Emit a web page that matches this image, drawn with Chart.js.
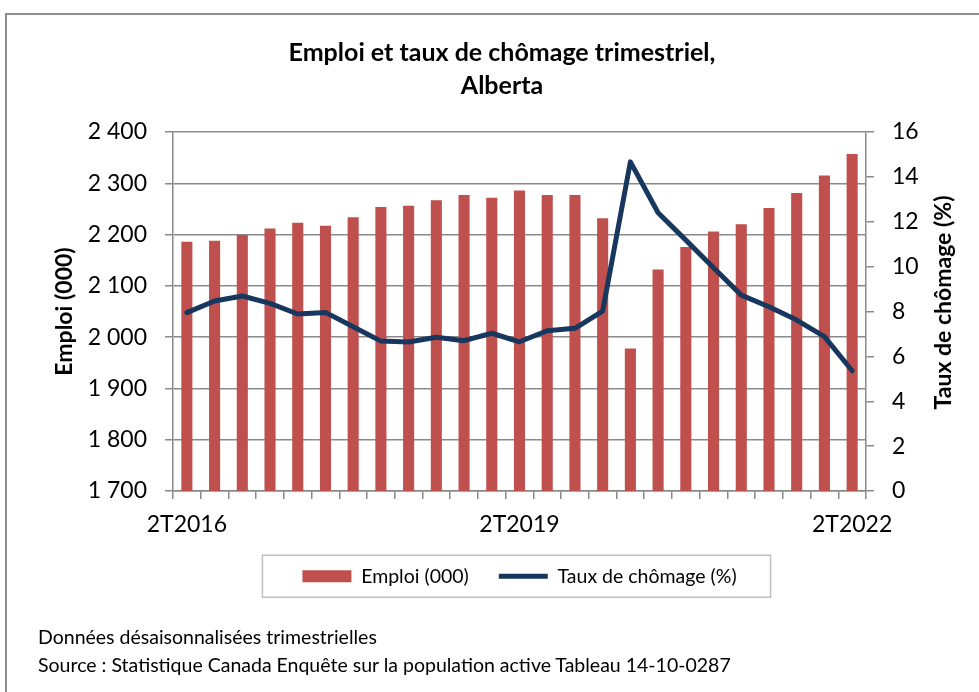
<!DOCTYPE html>
<html>
<head>
<meta charset="utf-8">
<script src="https://cdn.jsdelivr.net/npm/chart.js@4.4.1/dist/chart.umd.min.js"></script>
<style>
  html, body { margin: 0; padding: 0; background: #fff; }
  body { width: 979px; height: 692px; position: relative; overflow: hidden; font-family: Lato, "Noto Sans", sans-serif; }
  #frame { position: absolute; left: 5px; top: 13px; right: -4px; bottom: -4px; border-top: 2px solid #8c8c8c; border-left: 2px solid #8c8c8c; }
  #wrap { position: absolute; left: 0; top: 0; width: 979px; height: 692px; }
  #title { position: absolute; left: 252px; width: 500px; top: 35px; text-align: center; font-weight: bold; font-size: 25px; line-height: 33px; color: #000; }
  .foot { position: absolute; left: 38px; font-size: 19.5px; color: #000; white-space: nowrap; }
</style>
</head>
<body>
<div id="frame"></div>
<div id="wrap"><canvas id="c" width="979" height="692"></canvas></div>
<div id="title">Emploi et taux de chômage trimestriel,<br>Alberta</div>
<div class="foot" style="top:625px">Données désaisonnalisées trimestrielles</div>
<div class="foot" style="top:653px">Source : Statistique Canada Enquête sur la population active Tableau 14-10-0287</div>
<script>
const categories = ["2T2016","3T2016","4T2016","1T2017","2T2017","3T2017","4T2017","1T2018","2T2018","3T2018","4T2018","1T2019","2T2019","3T2019","4T2019","1T2020","2T2020","3T2020","4T2020","1T2021","2T2021","3T2021","4T2021","1T2022","2T2022"];
const emploi = [2186, 2188, 2199, 2212, 2223, 2217, 2234, 2254, 2256, 2267, 2277, 2272, 2286, 2277, 2277, 2232, 1978, 2132, 2176, 2206, 2220, 2252, 2281, 2315, 2357];
const chomage = [7.95, 8.47, 8.69, 8.36, 7.89, 7.96, 7.32, 6.68, 6.64, 6.85, 6.70, 7.03, 6.65, 7.14, 7.25, 8.02, 14.67, 12.40, 11.18, 9.95, 8.73, 8.21, 7.62, 6.88, 5.36];
const shownLabels = ["2T2016", "2T2019", "2T2022"];
const leftTitle = "Emploi (000)";
const rightTitle = "Taux de chômage (%)";
const seriesNames = ["Emploi (000)", "Taux de chômage (%)"];

const FONT = "Lato, 'Noto Sans', sans-serif";
const GRID = "#8a8a8a";

function fmtThousands(v) {
  const s = String(Math.round(v));
  return s.length > 3 ? s.slice(0, s.length - 3) + " " + s.slice(-3) : s;
}

const extras = {
  id: "extras",
  afterDraw(chart) {
    const ctx = chart.ctx;
    const ca = chart.chartArea;
    // right axis title, reading bottom to top
    ctx.save();
    ctx.font = "bold 23px " + FONT;
    ctx.fillStyle = "#000";
    ctx.textAlign = "center";
    ctx.textBaseline = "middle";
    ctx.translate(944, (ca.top + ca.bottom) / 2 - 9);
    ctx.rotate(-Math.PI / 2);
    ctx.fillText(rightTitle, 0, 0);
    ctx.restore();
    // legend frame
    const hb = chart.legend.legendHitBoxes;
    if (hb && hb.length) {
      const l = Math.min(...hb.map(h => h.left)) - 40;
      const r = Math.max(...hb.map(h => h.left + h.width)) + 34;
      const cy = hb[0].top + hb[0].height / 2;
      ctx.save();
      ctx.strokeStyle = "#bfbfbf";
      ctx.lineWidth = 1.5;
      ctx.strokeRect(l, cy - 21, r - l, 42);
      ctx.restore();
    }
  }
};

new Chart(document.getElementById("c"), {
  data: {
    labels: categories,
    datasets: [
      {
        type: "line",
        label: seriesNames[1],
        data: chomage,
        yAxisID: "y1",
        borderColor: "#17375E",
        backgroundColor: "#17375E",
        borderWidth: 5,
        tension: 0,
        pointRadius: 0,
        pointHoverRadius: 0,
        pointStyle: "line",
        borderJoinStyle: "round",
        borderCapStyle: "round"
      },
      {
        type: "bar",
        label: seriesNames[0],
        data: emploi,
        yAxisID: "y",
        backgroundColor: "#C0504D",
        borderWidth: 0,
        pointStyle: "rect",
        barPercentage: 0.4,
        categoryPercentage: 1.0
      }
    ]
  },
  options: {
    responsive: false,
    animation: false,
    events: [],
    layout: { padding: { left: 40, right: 7, top: 132, bottom: 96 } },
    plugins: {
      title: { display: false },
      tooltip: { enabled: false },
      legend: {
        position: "bottom",
        fullSize: false,
        reverse: true,
        labels: {
          usePointStyle: true,
          pointStyleWidth: 49,
          boxHeight: 12,
          padding: 30,
          color: "#000",
          font: { family: FONT, size: 19.5 }
        }
      }
    },
    scales: {
      x: {
        type: "category",
        offset: true,
        grid: { offset: true, drawOnChartArea: false, drawTicks: true, tickLength: 8, color: GRID, lineWidth: 1.5 },
        border: { display: true, color: GRID, width: 1.5 },
        ticks: {
          autoSkip: false, maxRotation: 0, minRotation: 0, padding: 12,
          color: "#000", font: { family: FONT, size: 23 },
          callback: function (value, index) {
            const lab = categories[index];
            return shownLabels.includes(lab) ? lab : "";
          }
        },
        afterFit: (s) => { s.height = 45.5; }
      },
      y: {
        type: "linear",
        position: "left",
        min: 1700, max: 2400,
        grid: { color: GRID, lineWidth: 1.5, drawTicks: true, tickLength: 8 },
        border: { display: true, color: GRID, width: 1.5 },
        ticks: {
          stepSize: 100, padding: 18, color: "#000", font: { family: FONT, size: 23 },
          callback: (v) => fmtThousands(v)
        },
        title: { display: true, text: leftTitle, color: "#000", font: { family: FONT, size: 23, weight: "bold" }, padding: { top: 11, bottom: 0 } },
        afterFit: (s) => { s.width = 133; }
      },
      y1: {
        type: "linear",
        position: "right",
        min: 0, max: 16,
        grid: { drawOnChartArea: false, color: GRID, lineWidth: 1.5, drawTicks: true, tickLength: 8 },
        border: { display: true, color: GRID, width: 1.5 },
        ticks: { stepSize: 2, padding: 18, color: "#000", font: { family: FONT, size: 23 } },
        title: { display: false },
        afterFit: (s) => { s.width = 106; }
      }
    }
  },
  plugins: [extras]
});
</script>
</body>
</html>
